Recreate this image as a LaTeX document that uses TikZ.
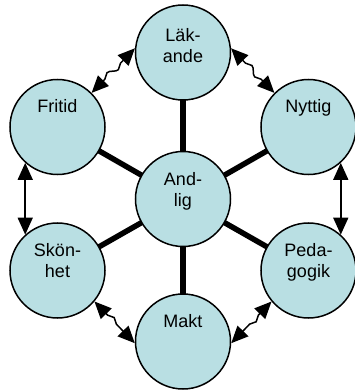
\documentclass[tikz,border=0pt]{standalone}
\usepackage{fontspec}
\setmainfont{Liberation Sans}
\usetikzlibrary{arrows.meta,decorations.pathmorphing}
\definecolor{bubble}{RGB}{185,223,227}
\tikzset{
  bub/.style={circle, draw=black, line width=1.5pt, fill=bubble, minimum size=95pt, inner sep=0pt},
  lbl/.style={anchor=base, text width=90pt, align=center, inner sep=0pt, font=\fontsize{18}{21}\selectfont},
  spoke/.style={line width=5.5pt},
  dbl/.style={line width=1.5pt, {Triangle[length=17pt,width=15pt]}-{Triangle[length=17pt,width=15pt]}},
  wavy/.style={dbl, decorate, decoration={snake, amplitude=3pt, segment length=20pt, pre length=19pt, post length=19pt}}
}
\begin{document}
\begin{tikzpicture}[x=1pt,y=1pt]
\useasboundingbox (0,0) rectangle (355,392);
\coordinate (cL) at (183,339.5);
\coordinate (cF) at (57.5,265);
\coordinate (cN) at (308.5,265);
\coordinate (cA) at (183,193);
\coordinate (cS) at (57.5,121.5);
\coordinate (cP) at (308.5,121.5);
\coordinate (cM) at (183,50.5);
% spokes
\draw[spoke] (cA) -- (cL);
\draw[spoke] (cA) -- (cF);
\draw[spoke] (cA) -- (cN);
\draw[spoke] (cA) -- (cS);
\draw[spoke] (cA) -- (cP);
\draw[spoke] (cA) -- (cM);
% circles
\node[bub] (L) at (cL) {};
\node[bub] (F) at (cF) {};
\node[bub] (N) at (cN) {};
\node[bub] (A) at (cA) {};
\node[bub] (S) at (cS) {};
\node[bub] (P) at (cP) {};
\node[bub] (M) at (cM) {};
% labels
\node[lbl] (tL) at ([yshift=11pt]cL) {Läk-\\ande};
\node[lbl] (tF) at ([yshift=14pt]cF) {Fritid};
\node[lbl] (tN) at ([yshift=14pt]cN) {Nyttig};
\node[lbl] (tA) at ([yshift=14pt]cA) {And-\\lig};
\node[lbl] (tS) at ([yshift=14pt]cS) {Skön-\\het};
\node[lbl] (tP) at ([yshift=14pt]cP) {Peda-\\gogik};
\node[lbl] (tM) at ([yshift=14pt]cM) {Makt};
% arrows
\draw[dbl] (F.228) -- (S.132);
\draw[dbl] (N.312) -- (P.48);
\draw[wavy] (F.45) -- (L.175);
\draw[wavy] (N.135) -- (L.5);
\draw[wavy] (S.-40) -- (M.182);
\draw[wavy] (P.220) -- (M.-2);
\end{tikzpicture}
\end{document}
